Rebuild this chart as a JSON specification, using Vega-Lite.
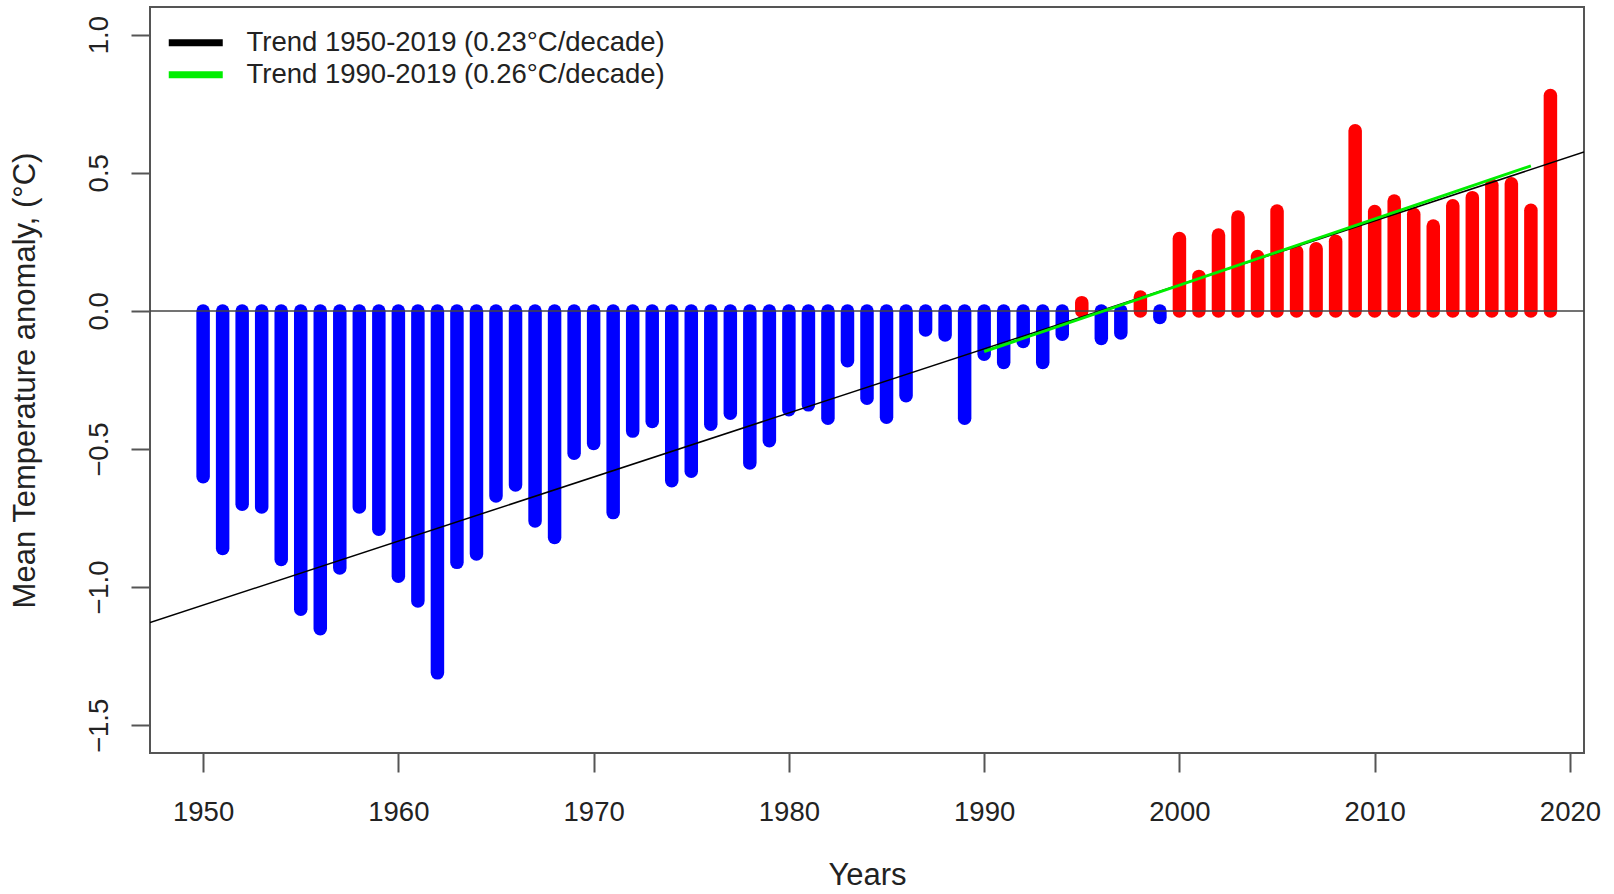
{
  "$schema": "https://vega.github.io/schema/vega-lite/v6.json",
  "width": 1434,
  "height": 746,
  "autosize": {"type": "none"},
  "padding": {"left": 150, "top": 7, "right": 30, "bottom": 141},
  "background": "white",
  "config": {
    "font": "Liberation Sans",
    "view": {"stroke": "#555555", "strokeWidth": 2},
    "axis": {
      "grid": false,
      "domain": false,
      "labelFont": "Liberation Sans",
      "labelFontSize": 27.5,
      "labelColor": "#222222",
      "titleFont": "Liberation Sans",
      "titleFontSize": 31,
      "titleFontWeight": "normal",
      "titleColor": "#222222",
      "tickColor": "#555555",
      "tickWidth": 2,
      "tickSize": 19
    }
  },
  "datasets": {
    "anomaly": [
      {"year": 1950, "anomaly": -0.60}, {"year": 1951, "anomaly": -0.86}, {"year": 1952, "anomaly": -0.70},
      {"year": 1953, "anomaly": -0.71}, {"year": 1954, "anomaly": -0.90}, {"year": 1955, "anomaly": -1.08},
      {"year": 1956, "anomaly": -1.15}, {"year": 1957, "anomaly": -0.93}, {"year": 1958, "anomaly": -0.71},
      {"year": 1959, "anomaly": -0.79}, {"year": 1960, "anomaly": -0.96}, {"year": 1961, "anomaly": -1.05},
      {"year": 1962, "anomaly": -1.31}, {"year": 1963, "anomaly": -0.91}, {"year": 1964, "anomaly": -0.88},
      {"year": 1965, "anomaly": -0.67}, {"year": 1966, "anomaly": -0.63}, {"year": 1967, "anomaly": -0.76},
      {"year": 1968, "anomaly": -0.82}, {"year": 1969, "anomaly": -0.515}, {"year": 1970, "anomaly": -0.48},
      {"year": 1971, "anomaly": -0.73}, {"year": 1972, "anomaly": -0.435}, {"year": 1973, "anomaly": -0.40},
      {"year": 1974, "anomaly": -0.615}, {"year": 1975, "anomaly": -0.58}, {"year": 1976, "anomaly": -0.41},
      {"year": 1977, "anomaly": -0.37}, {"year": 1978, "anomaly": -0.55}, {"year": 1979, "anomaly": -0.47},
      {"year": 1980, "anomaly": -0.358}, {"year": 1981, "anomaly": -0.34}, {"year": 1982, "anomaly": -0.388},
      {"year": 1983, "anomaly": -0.18}, {"year": 1984, "anomaly": -0.316}, {"year": 1985, "anomaly": -0.385},
      {"year": 1986, "anomaly": -0.307}, {"year": 1987, "anomaly": -0.069}, {"year": 1988, "anomaly": -0.087},
      {"year": 1989, "anomaly": -0.388}, {"year": 1990, "anomaly": -0.157}, {"year": 1991, "anomaly": -0.187},
      {"year": 1992, "anomaly": -0.111}, {"year": 1993, "anomaly": -0.187}, {"year": 1994, "anomaly": -0.084},
      {"year": 1995, "anomaly": 0.03}, {"year": 1996, "anomaly": -0.10}, {"year": 1997, "anomaly": -0.08},
      {"year": 1998, "anomaly": 0.05}, {"year": 1999, "anomaly": -0.024}, {"year": 2000, "anomaly": 0.262},
      {"year": 2001, "anomaly": 0.125}, {"year": 2002, "anomaly": 0.275}, {"year": 2003, "anomaly": 0.34},
      {"year": 2004, "anomaly": 0.197}, {"year": 2005, "anomaly": 0.362}, {"year": 2006, "anomaly": 0.215},
      {"year": 2007, "anomaly": 0.225}, {"year": 2008, "anomaly": 0.252}, {"year": 2009, "anomaly": 0.652},
      {"year": 2010, "anomaly": 0.36}, {"year": 2011, "anomaly": 0.398}, {"year": 2012, "anomaly": 0.35},
      {"year": 2013, "anomaly": 0.307}, {"year": 2014, "anomaly": 0.381}, {"year": 2015, "anomaly": 0.41},
      {"year": 2016, "anomaly": 0.455}, {"year": 2017, "anomaly": 0.46}, {"year": 2018, "anomaly": 0.364},
      {"year": 2019, "anomaly": 0.78}
    ],
    "trend": [
      {"series": "Trend 1950-2019 (0.23°C/decade)", "year": 1947.28, "value": -1.128},
      {"series": "Trend 1950-2019 (0.23°C/decade)", "year": 2020.72, "value": 0.575},
      {"series": "Trend 1990-2019 (0.26°C/decade)", "year": 1990, "value": -0.147},
      {"series": "Trend 1990-2019 (0.26°C/decade)", "year": 2018, "value": 0.525}
    ]
  },
  "layer": [
    {
      "data": {"name": "anomaly"},
      "mark": {"type": "rule", "strokeWidth": 13.5, "strokeCap": "round"},
      "encoding": {
        "x": {
          "field": "year",
          "type": "quantitative",
          "scale": {"domain": [1947.28, 2020.72], "nice": false, "zero": false},
          "axis": {
            "values": [1950, 1960, 1970, 1980, 1990, 2000, 2010, 2020],
            "format": "d",
            "title": "Years",
            "labelPadding": 26,
            "titlePadding": 35
          }
        },
        "y": {
          "field": "anomaly",
          "type": "quantitative",
          "scale": {"domain": [-1.6, 1.1], "nice": false, "zero": false},
          "axis": {
            "values": [-1.5, -1, -0.5, 0, 0.5, 1],
            "format": ".1f",
            "labelAngle": -90,
            "labelAlign": "center",
            "labelBaseline": "bottom",
            "labelPadding": 18,
            "title": "Mean Temperature anomaly, (°C)",
            "titlePadding": 44
          }
        },
        "y2": {"datum": 0},
        "color": {"condition": {"test": "datum.anomaly > 0", "value": "#ff0000"}, "value": "#0000ff"}
      }
    },
    {
      "data": {"values": [{}]},
      "mark": {"type": "rule", "stroke": "#444444", "strokeWidth": 1.5},
      "encoding": {"y": {"datum": 0}}
    },
    {
      "data": {"name": "trend"},
      "transform": [{"filter": "datum.series == 'Trend 1950-2019 (0.23°C/decade)'"}],
      "mark": {"type": "line", "clip": true, "stroke": "#000000", "strokeWidth": 1.5},
      "encoding": {
        "x": {"field": "year", "type": "quantitative"},
        "y": {"field": "value", "type": "quantitative"}
      }
    },
    {
      "data": {"name": "trend"},
      "transform": [{"filter": "datum.series == 'Trend 1990-2019 (0.26°C/decade)'"}],
      "mark": {"type": "line", "clip": true, "stroke": "#00ee00", "strokeWidth": 3},
      "encoding": {
        "x": {"field": "year", "type": "quantitative"},
        "y": {"field": "value", "type": "quantitative"}
      }
    },
    {
      "data": {"name": "trend"},
      "mark": {"type": "line", "clip": true, "strokeWidth": 7, "strokeCap": "round", "opacity": 0},
      "encoding": {
        "x": {"field": "year", "type": "quantitative"},
        "y": {"field": "value", "type": "quantitative"},
        "color": {
          "field": "series",
          "type": "nominal",
          "scale": {
            "domain": ["Trend 1950-2019 (0.23°C/decade)", "Trend 1990-2019 (0.26°C/decade)"],
            "range": ["#000000", "#00ee00"]
          },
          "legend": {
            "title": null,
            "orient": "none",
            "legendX": 32,
            "legendY": 22,
            "symbolType": "M-2.7,0L2.7,0",
            "symbolSize": 400,
            "symbolStrokeWidth": 7,
            "symbolOpacity": 1,
            "labelFont": "Liberation Sans",
            "labelFontSize": 27.5,
            "labelColor": "#222222",
            "labelOffset": 37,
            "labelLimit": 0,
            "rowPadding": 3,
            "padding": 0
          }
        }
      }
    }
  ]
}
